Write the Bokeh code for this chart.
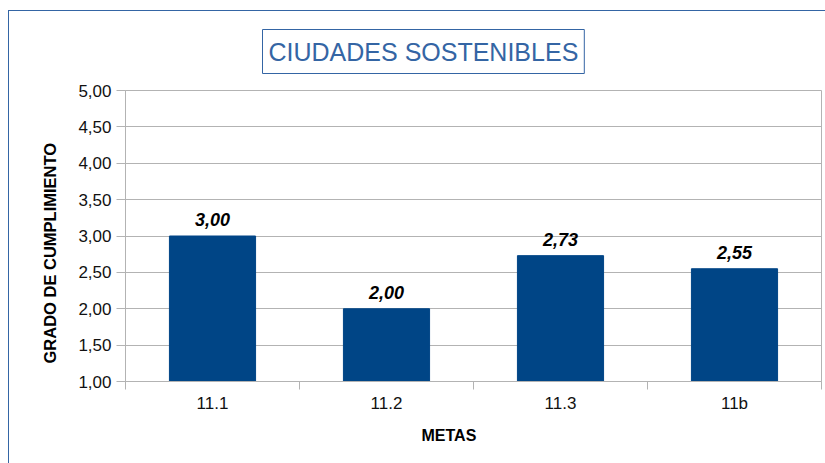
from bokeh.plotting import figure
from bokeh.models import (ColumnDataSource, FixedTicker, LabelSet, Title, Range1d)
from bokeh.core.properties import value
from bokeh.embed import file_html
from bokeh.resources import INLINE

categories = ["11.1", "11.2", "11.3", "11b"]
values = [3.00, 2.00, 2.73, 2.55]
y_ticks = [1.0, 1.5, 2.0, 2.5, 3.0, 3.5, 4.0, 4.5, 5.0]
title_text = "CIUDADES SOSTENIBLES"
x_title = "METAS"
y_title = "GRADO DE CUMPLIMIENTO"

FONT = "Liberation Sans"
BAR = "#004586"
GRID = "#b3b3b3"
BLUE = "#3465a4"

W, H = 825, 463
FL, FT, FR, FB = 125, 90, 821, 381  # frame edges in pixels
Y0, Y1 = 1, 5
NX = len(categories)

xs = [i + 0.5 for i in range(NX)]
labels = [f"{v:.2f}".replace(".", ",") for v in values]
src = ColumnDataSource(dict(x=xs, top=values, lab=labels, cat=categories))

p = figure(width=W, height=H, output_backend="svg", toolbar_location=None,
           x_range=Range1d(0, NX), y_range=Range1d(Y0, Y1),
           min_border_left=FL, min_border_right=W - FR, min_border_top=FT, min_border_bottom=H - FB)
p.background_fill_color = "white"
p.border_fill_color = None
p.outline_line_color = GRID
p.styles = {
    "background": (f"linear-gradient({BLUE},{BLUE}) 8px 10px / 1px 100% no-repeat, "
                   f"linear-gradient({BLUE},{BLUE}) 8px 10px / 100% 1px no-repeat, white"),
}

p.vbar(x="x", top="top", bottom=Y0, width=0.495, source=src, color=BAR)

# axes
p.xaxis.ticker = FixedTicker(ticks=xs, minor_ticks=list(range(NX + 1)))
p.xaxis.major_label_overrides = {x: c for x, c in zip(xs, categories)}
p.xaxis.major_tick_line_color = None
p.xaxis.minor_tick_line_color = GRID
p.xaxis.minor_tick_out = 8
p.xaxis.minor_tick_in = 0
p.xaxis.axis_line_color = GRID
p.xaxis.major_label_standoff = 4
p.xgrid.grid_line_color = None

p.yaxis.ticker = FixedTicker(ticks=y_ticks)
p.yaxis.major_label_overrides = {t: f"{t:.2f}".replace(".", ",") for t in y_ticks}
p.yaxis.major_tick_line_color = GRID
p.yaxis.major_tick_out = 9
p.yaxis.major_tick_in = 0
p.yaxis.minor_tick_line_color = None
p.yaxis.axis_line_color = GRID
p.yaxis.major_label_standoff = 5
p.ygrid.grid_line_color = GRID
p.ygrid.ticker = FixedTicker(ticks=y_ticks)

for ax in (p.xaxis, p.yaxis):
    ax.major_label_text_font = FONT
    ax.major_label_text_font_size = "17px"
    ax.major_label_text_color = "#111111"

p.add_layout(LabelSet(x="x", y="top", text="lab", source=src, y_offset=10,
                      text_align="center", text_baseline="alphabetic",
                      text_font=value(FONT), text_font_size=value("18px"),
                      text_font_style="bold italic", text_color="black"))

p.title = Title(text=title_text, align="left", offset=137, standoff=34,
                text_font=FONT, text_font_size="25px", text_font_style="normal",
                text_color=BLUE, border_line_color=BLUE,
                padding=dict(left=6, right=6, top=8, bottom=8))
p.add_layout(Title(text=x_title, align="left", offset=296, standoff=18,
                   text_font=FONT, text_font_size="16px", text_font_style="bold",
                   text_color="black"), "below")
p.add_layout(Title(text=y_title, align="left", offset=18, standoff=33,
                   text_font=FONT, text_font_size="16.5px", text_font_style="bold",
                   text_color="black"), "left")

open("out.html", "w").write(file_html(p, INLINE))
